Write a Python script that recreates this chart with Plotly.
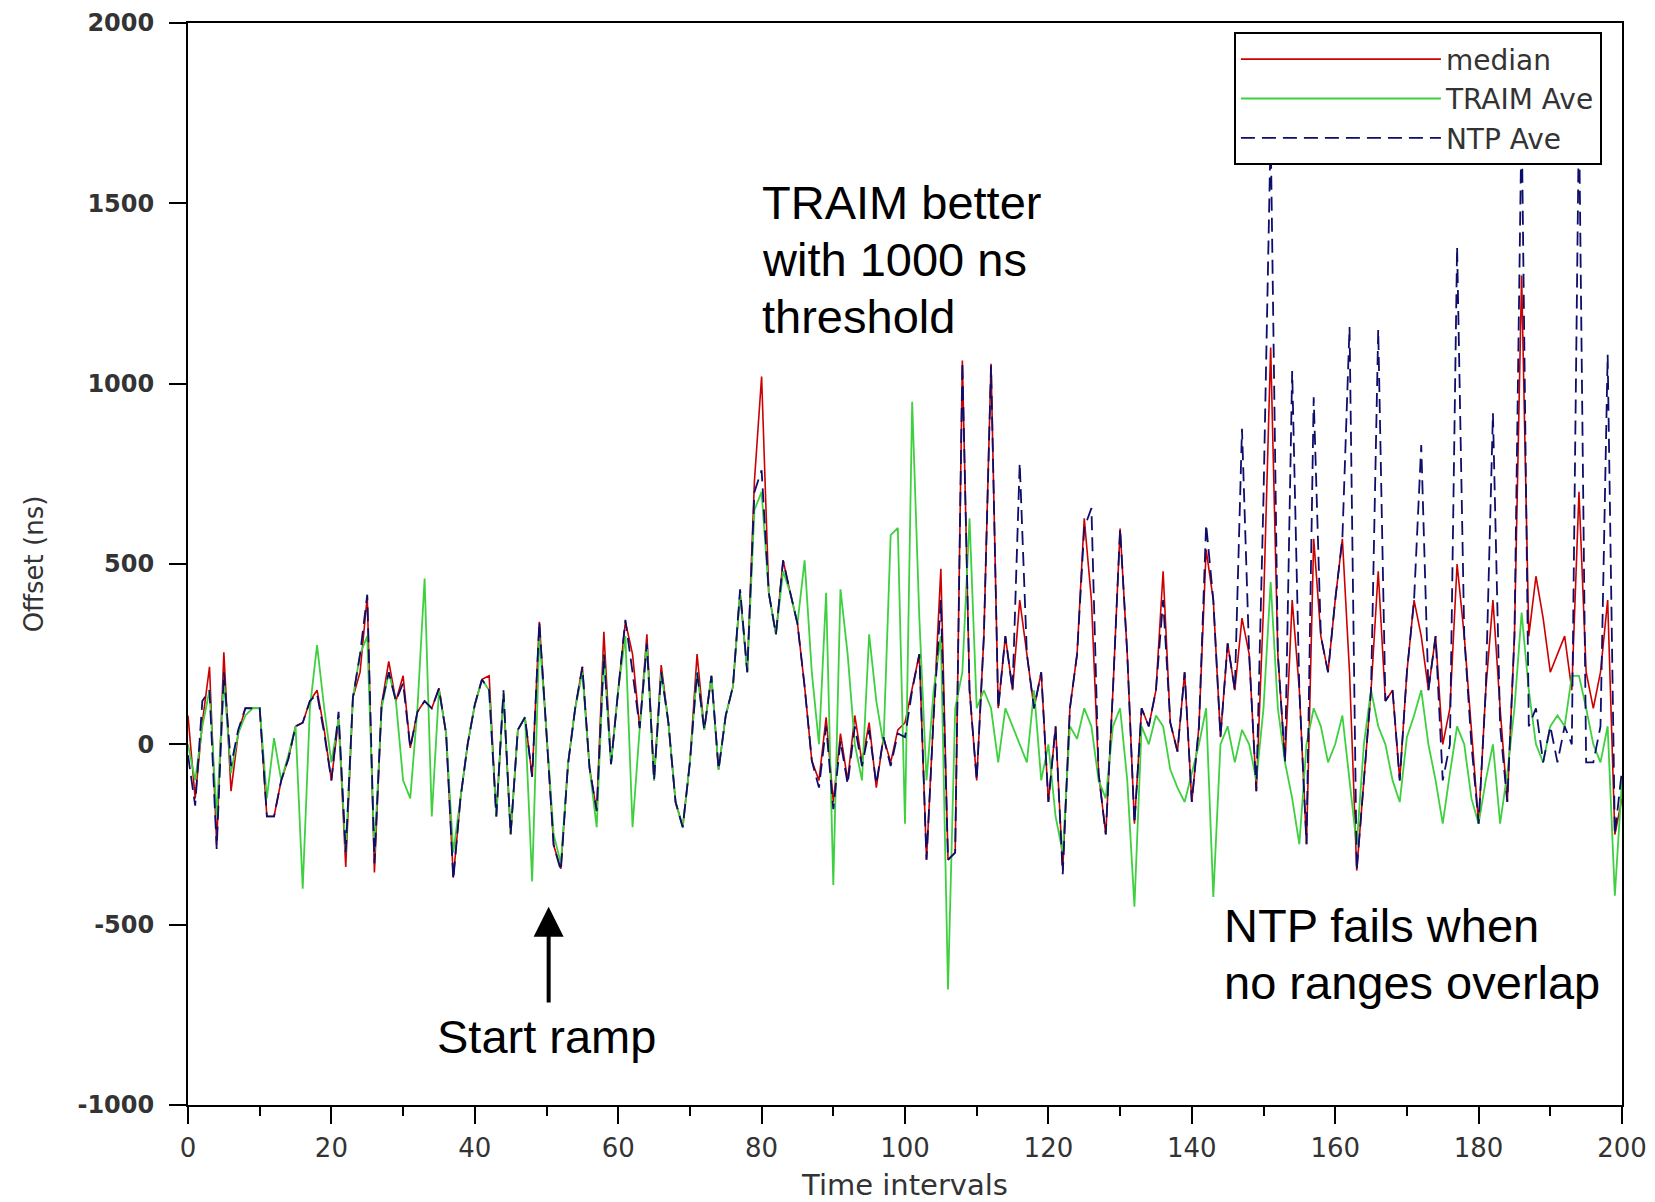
import plotly.graph_objects as go

# ---------------- data ----------------
t_values = list(range(0, 201))

median = [
    80, -150, 60, 215, -280, 255, -130, 30, 100, 100, 100,
    -200, -200, -100, -40, 50, 60, 120, 150, 40, -100,
    70, -340, 130, 200, 410, -355, 110, 230, 120, 190,
    -10, 90, 120, 100, 155, 30, -370, -150, 0, 110,
    180, 190, -200, 140, -250, 40, 75, -90, 340, 35,
    -280, -345, -55, 100, 215, -65, -185, 312, -55, 150,
    340, 250, 45, 305, -100, 220, 60, -160, -228, -50,
    250, 40, 190, -70, 80, 160, 420, 200, 730, 1020,
    420, 305, 510, 420, 335, 160, -45, -100, 75, -160,
    30, -100, 80, -50, 60, -120, 20, -50, 40, 60,
    160, 250, -320, 100, 487, -320, -300, 1064, 150, -100,
    300, 1055, 100, 300, 150, 400, 250, 100, 200, -160,
    50, -350, 100, 250, 627, 400, -80, -250, 150, 598,
    250, -220, 100, 50, 150, 480, 60, -20, 200, -160,
    50, 540, 400, 20, 280, 150, 350, 250, -130, 380,
    1100, 250, -50, 400, 150, -277, 570, 300, 200, 400,
    570, 200, -350, -100, 150, 480, 120, 150, -100, 200,
    400, 300, 150, 300, 0, 100, 500, 300, 50, -220,
    150, 400, 100, -160, 300, 1300, 300, 466, 350, 200,
    250, 300, 150, 700, 200, 100, 200, 400, -250, -150,
]

traim_ave = [
    0, -100, 50, 150, -200, 180, -80, 30, 80, 100, 100,
    -150, 17, -100, -30, 50, -400, 100, 275, 100, -50,
    70, -300, 130, 250, 300, -300, 100, 200, 120, -100,
    -150, 100, 460, -200, 150, 30, -300, -150, 0, 110,
    180, 150, -200, 140, -250, 40, 75, -380, 300, 35,
    -250, -330, -55, 100, 200, -65, -230, 250, -55, 150,
    300, -230, 45, 280, -100, 200, 60, -160, -230, -50,
    200, 40, 190, -70, 80, 160, 420, 200, 650, 700,
    420, 305, 480, 420, 335, 510, 200, 0, 420, -390,
    430, 250, 0, -100, 305, 120, 0, 580, 600, -220,
    950, 350, -100, 150, 300, -680, 100, 200, 627, 100,
    150, 100, -50, 100, 50, 0, -50, 150, -100, 0,
    -200, -300, 50, 15, 100, 50, -100, -150, 50, 100,
    -100, -450, 50, 0, 80, 50, -70, -120, -160, -80,
    0, 100, -423, 0, 50, -50, 40, 0, -100, 100,
    450, 100, -50, -150, -277, 0, 100, 50, -50, 0,
    80, -100, -280, 0, 150, 50, 0, -100, -160, 20,
    80, 150, 0, -100, -220, -80, 50, 0, -150, -220,
    -100, 0, -220, -80, 100, 365, 150, 0, -50, 50,
    80, 50, 190, 190, 100, 0, -50, 50, -420, -100,
]

ntp_ave = [
    -30, -170, 120, 150, -290, 200, -60, 40, 100, 100, 100,
    -200, -200, -100, -40, 50, 60, 120, 140, 30, -100,
    90, -300, 130, 250, 415, -330, 110, 200, 120, 170,
    -10, 90, 120, 100, 155, 30, -375, -150, 0, 110,
    180, 150, -200, 150, -250, 40, 75, -90, 340, 35,
    -280, -350, -55, 100, 215, -65, -185, 250, -55, 150,
    345, 200, 45, 280, -100, 200, 60, -160, -230, -50,
    200, 40, 190, -70, 80, 160, 430, 200, 700, 760,
    420, 305, 510, 420, 335, 160, -45, -120, 50, -180,
    10, -110, 50, -60, 40, -110, 20, -60, 30, 20,
    150, 250, -320, 80, 400, -320, -300, 1060, 150, -100,
    300, 1050, 100, 300, 150, 780, 250, 100, 200, -160,
    50, -360, 100, 250, 600, 655, -80, -250, 150, 598,
    250, -220, 100, 50, 150, 400, 60, -20, 200, -160,
    50, 610, 400, 20, 280, 150, 875, 250, -130, 685,
    1700, 250, -50, 1035, 150, -277, 962, 300, 200, 400,
    570, 1157, -350, -100, 150, 1150, 120, 150, -100, 200,
    400, 830, 150, 300, -100, 0, 1380, 300, 0, -220,
    150, 918, 50, -160, 300, 1750, 50, 100, -50, 50,
    -50, 50, 0, 1750, -50, -50, 50, 1080, -250, -70,
]

series_names = ["median", "TRAIM Ave", "NTP Ave"]

x_tick_vals = [0, 20, 40, 60, 80, 100, 120, 140, 160, 180, 200]
x_tick_labels = ["0", "20", "40", "60", "80", "100", "120", "140", "160", "180", "200"]
y_tick_vals = [-1000, -500, 0, 500, 1000, 1500, 2000]
y_tick_labels = ["-1000", "-500", "0", "500", "1000", "1500", "2000"]

x_title = "Time intervals"
y_title = "Offset (ns)"

note_traim = ["TRAIM better", "with 1000 ns", "threshold"]
note_ntp = ["NTP fails when", "no ranges overlap"]
note_ramp = "Start ramp"

# ---------------- figure ----------------
fig = go.Figure()

fig.add_trace(go.Scatter(
    x=t_values, y=median, mode="lines", name=series_names[0],
    line=dict(color="#cc0000", width=1.6),
))
fig.add_trace(go.Scatter(
    x=t_values, y=traim_ave, mode="lines", name=series_names[1],
    line=dict(color="#3fd03f", width=1.8),
))
fig.add_trace(go.Scatter(
    x=t_values, y=ntp_ave, mode="lines", name=series_names[2],
    line=dict(color="#0d0d6b", width=1.8, dash="14px,7px"),
))

annot_font = dict(family="Liberation Sans, Arial, sans-serif", size=47, color="black")

annotations = []
for i, line in enumerate(note_traim):
    annotations.append(dict(
        x=79.8, y=1501 - i * 157, xref="x", yref="y", text=line,
        showarrow=False, xanchor="left", yanchor="middle", font=annot_font,
    ))
for i, line in enumerate(note_ntp):
    annotations.append(dict(
        x=144.2, y=-501 - i * 160, xref="x", yref="y", text=line,
        showarrow=False, xanchor="left", yanchor="middle", font=annot_font,
    ))
annotations.append(dict(
    x=50.0, y=-810, xref="x", yref="y", text=note_ramp,
    showarrow=False, xanchor="center", yanchor="middle", font=annot_font,
))
annotations.append(dict(
    x=50.3, y=-450, xref="x", yref="y", ax=50.3, ay=-720, axref="x", ayref="y",
    text="", showarrow=True, arrowhead=2, arrowsize=1.5, arrowwidth=4, arrowcolor="black",
))

grey = "#333333"
tick_font_y = dict(family="DejaVu Sans, Verdana, sans-serif", size=24, color=grey, weight="bold")
tick_font_x = dict(family="DejaVu Sans, Verdana, sans-serif", size=26, color=grey)
x_title_font = dict(family="DejaVu Sans, Verdana, sans-serif", size=29, color=grey)
y_title_font = dict(family="DejaVu Sans, Verdana, sans-serif", size=26, color=grey)

# page body has an 8px default margin; figure is sized/offset to compensate
fig.update_layout(
    width=1647, height=1194,
    margin=dict(l=180, r=33, t=15, b=97, autoexpand=False),
    paper_bgcolor="white", plot_bgcolor="white",
    showlegend=True,
    legend=dict(
        x=0.986, y=0.9913, xanchor="right", yanchor="top",
        bgcolor="white", bordercolor="black", borderwidth=2,
        font=dict(family="DejaVu Sans, Verdana, sans-serif", size=28, color=grey),
        itemwidth=200,
    ),
    annotations=annotations,
    xaxis=dict(
        range=[0, 200], showgrid=False, zeroline=False, automargin=False,
        showline=True, linecolor="black", linewidth=2, mirror=True,
        tickmode="array", tickvals=x_tick_vals, ticktext=x_tick_labels,
        ticks="outside", ticklen=17, tickwidth=1.5, tickcolor="black",
        minor=dict(dtick=10, ticks="outside", ticklen=9, tickwidth=1.5, tickcolor="black", showgrid=False),
        tickfont=tick_font_x, ticklabelstandoff=2, ticklabeloverflow="allow",
        title=dict(text=x_title, font=x_title_font, standoff=14),
    ),
    yaxis=dict(
        range=[-1000, 2000], showgrid=False, zeroline=False, automargin=False,
        showline=True, linecolor="black", linewidth=2, mirror=True,
        tickmode="array", tickvals=y_tick_vals, ticktext=y_tick_labels,
        ticks="outside", ticklen=17, tickwidth=1.5, tickcolor="black",
        tickfont=tick_font_y, ticklabelstandoff=10, ticklabeloverflow="allow",
        title=dict(text=y_title, font=y_title_font, standoff=26),
    ),
)

fig.write_html("out.html")
